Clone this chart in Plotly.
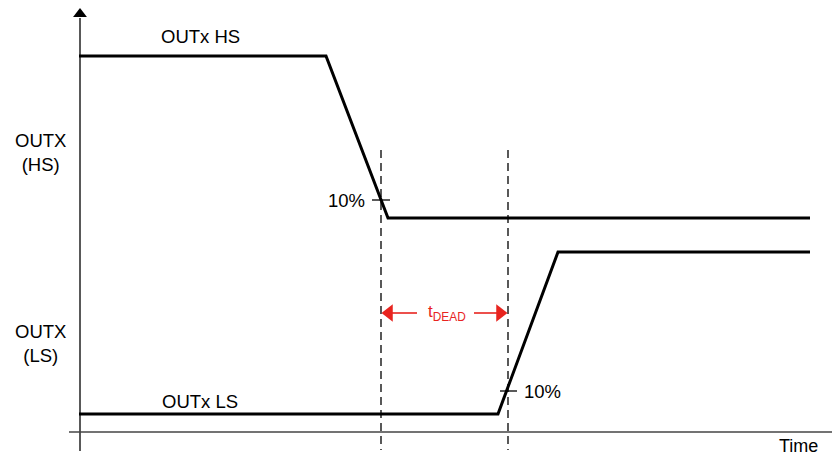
import plotly.graph_objects as go

# Waveform data (schematic units; time axis left->right, level axis top->bottom)
hs_time = [79, 326, 388, 810]
hs_level = [56, 56, 218, 218]
ls_time = [79, 498, 558, 810]
ls_level = [414, 414, 252, 252]

# Dead-time markers
dead_start = 381
dead_end = 508
marker_top = 150
marker_bottom = 450
dead_arrow_level = 313

# 10% crossing points
hs_cross = (381, 200)
ls_cross = (508, 391)

# Axis geometry
x_axis_level = 432
y_axis_time = 80

FONT = "Liberation Sans, Arial, sans-serif"
RED = "#e8241f"
PAGE_OFFSET = 8  # default body margin of the html page

fig = go.Figure()

def seg(x, y, color="black", width=1.5, dash=None):
    fig.add_trace(go.Scatter(x=x, y=y, mode="lines", hoverinfo="skip",
                             line=dict(color=color, width=width, dash=dash)))

def mark(x, y, symbol, size, color="black"):
    fig.add_trace(go.Scatter(x=[x], y=[y], mode="markers", hoverinfo="skip",
                             marker=dict(symbol=symbol, size=size, color=color, line=dict(width=0))))

# axes lines
seg([y_axis_time, y_axis_time], [451, 18], color="#222", width=1.5)
seg([69, 834], [x_axis_level, x_axis_level], color="#444", width=1.5)
mark(y_axis_time, 14, "triangle-up", 12)
mark(835, x_axis_level, "triangle-right", 9)

# dashed markers
for xd in [dead_start, dead_end]:
    seg([xd, xd], [marker_top, marker_bottom], width=1.3, dash="8px,5px")

# waveforms
seg(hs_time, hs_level, width=3)
seg(ls_time, ls_level, width=3)

# 10% ticks
seg([hs_cross[0] - 9, hs_cross[0] + 9], [hs_cross[1], hs_cross[1]], width=1.3)
seg([ls_cross[0] - 8, ls_cross[0] + 9], [ls_cross[1], ls_cross[1]], width=1.3)

# red dead-time arrows
seg([dead_start + 10, 417], [dead_arrow_level, dead_arrow_level], color=RED, width=1.6)
seg([474, dead_end - 10], [dead_arrow_level, dead_arrow_level], color=RED, width=1.6)
mark(dead_start + 8, dead_arrow_level, "triangle-left", 15, RED)
mark(dead_end - 8, dead_arrow_level, "triangle-right", 15, RED)

ann = []
def txt(x, y, t, xanchor="center", size=18.5, color="black"):
    ann.append(dict(x=x, y=y, xref="x", yref="y", text=t, showarrow=False, xanchor=xanchor,
                    yanchor="middle", font=dict(family=FONT, size=size, color=color)))

txt(200, 36, "OUTx HS")
txt(200, 401, "OUTx LS")
txt(40, 152, "OUTX<br>(HS)")
txt(40, 343, "OUTX<br>(LS)")
txt(798, 446, "Time", size=18)
txt(367, 200, "10%", xanchor="right")
txt(522, 391, "10%", xanchor="left")
txt(447, 313, "t<sub>DEAD</sub>", size=17, color=RED)

fig.update_layout(
    width=840 - PAGE_OFFSET, height=457 - PAGE_OFFSET, margin=dict(l=0, r=0, t=0, b=0),
    plot_bgcolor="white", paper_bgcolor="white", showlegend=False,
    xaxis=dict(range=[PAGE_OFFSET, 840], visible=False, fixedrange=True),
    yaxis=dict(range=[457, PAGE_OFFSET], visible=False, fixedrange=True),
    annotations=ann,
)

fig.write_html("out.html")
